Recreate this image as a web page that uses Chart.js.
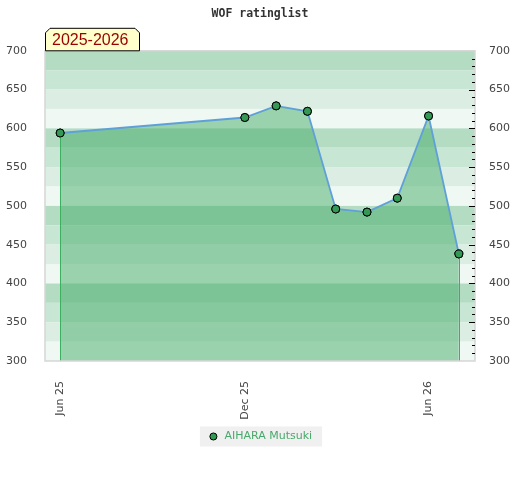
<!DOCTYPE html>
<html>
<head>
<meta charset="utf-8">
<script src="https://cdn.jsdelivr.net/npm/chart.js@4"></script>
<style>
  html, body { margin: 0; padding: 0; background: #fff; }
  #wrap { width: 520px; height: 480px; }
</style>
</head>
<body>
<div id="wrap"><canvas id="chart" width="520" height="480"></canvas></div>
<script>
// data
const dates = ['2025-06-01', '2025-12-01', '2026-01-01', '2026-02-01', '2026-03-01',
               '2026-04-01', '2026-05-01', '2026-06-01', '2026-07-01'];
const ratings = [594, 614, 629, 622, 496, 492, 510, 616, 438];
const xTickDates = ['2025-06-01', '2025-12-01', '2026-06-01'];
const xTickLabels = ['Jun 25', 'Dec 25', 'Jun 26'];
const yTicks = [300, 350, 400, 450, 500, 550, 600, 650, 700];
const playerName = 'AIHARA Mutsuki';
const seasonLabel = '2025-2026';
const chartTitle = 'WOF ratinglist';

const toMs = s => {
  const p = s.split('-').map(Number);
  return Date.UTC(p[0], p[1] - 1, p[2]);
};

const xMin = Date.UTC(2025, 4, 17);
const xMax = Date.UTC(2026, 6, 17);

// horizontal bands every 25 points, 4 shades repeating from the top
const bandColors = ['#b3dcc3', '#c8e6d4', '#dceee3', '#eff8f3'];

const bandsPlugin = {
  id: 'bands',
  beforeDatasetsDraw(chart) {
    const { ctx, chartArea } = chart;
    const y = chart.scales.y;
    ctx.save();
    let i = 0;
    for (let v = y.max; v > y.min; v -= 25) {
      const top = y.getPixelForValue(v);
      const bot = y.getPixelForValue(v - 25);
      ctx.fillStyle = bandColors[i % 4];
      ctx.fillRect(chartArea.left, top, chartArea.right - chartArea.left, bot - top);
      i++;
    }
    ctx.restore();
  },
  afterDatasetsDraw(chart) {
    const { ctx, chartArea } = chart;
    const meta = chart.getDatasetMeta(0);
    const first = meta.data[0];
    const last = meta.data[meta.data.length - 1];
    ctx.save();
    ctx.strokeStyle = '#3cb060';
    ctx.lineWidth = 1;
    [first, last].forEach(p => {
      const x = Math.round(p.x) + 0.5;
      ctx.beginPath();
      ctx.moveTo(x, p.y);
      ctx.lineTo(x, chartArea.bottom);
      ctx.stroke();
    });
    // redraw the points on top of the edge lines
    meta.data.forEach(p => p.draw(ctx, chartArea));
    ctx.restore();
  }
};

const framePlugin = {
  id: 'frame',
  afterDraw(chart) {
    const { ctx, chartArea } = chart;
    const y2 = chart.scales.y2;
    ctx.save();
    // plot border
    ctx.strokeStyle = '#d6d6d6';
    ctx.lineWidth = 1.5;
    ctx.strokeRect(chartArea.left, chartArea.top, chartArea.right - chartArea.left, chartArea.bottom - chartArea.top);

    // inward ticks on the right axis
    ctx.strokeStyle = '#000';
    ctx.lineWidth = 1;
    for (let v = y2.min + 10; v < y2.max; v += 10) {
      const py = Math.round(y2.getPixelForValue(v)) + 0.5;
      const len = v % 50 === 0 ? 6 : 3;
      ctx.beginPath();
      ctx.moveTo(chartArea.right - len, py);
      ctx.lineTo(chartArea.right, py);
      ctx.stroke();
    }

    // season label box
    const bx = chartArea.left, by = chartArea.top - 23, bw = 95, bh = 23, c = 5;
    ctx.beginPath();
    ctx.moveTo(bx + 0.5, by + bh);
    ctx.lineTo(bx + 0.5, by + c);
    ctx.lineTo(bx + c, by + 0.5);
    ctx.lineTo(bx + bw - c, by + 0.5);
    ctx.lineTo(bx + bw - 0.5, by + c);
    ctx.lineTo(bx + bw - 0.5, by + bh);
    ctx.closePath();
    ctx.fillStyle = '#ffffcc';
    ctx.fill();
    ctx.strokeStyle = '#000';
    ctx.stroke();
    ctx.fillStyle = '#990000';
    ctx.font = '16px "Liberation Sans"';
    ctx.textBaseline = 'middle';
    ctx.textAlign = 'left';
    ctx.fillText(seasonLabel, bx + 7, by + bh / 2 + 1);
    ctx.restore();
  }
};

const legendBgPlugin = {
  id: 'legendBg',
  beforeDraw(chart) {
    const lg = chart.legend;
    if (!lg || !lg.legendHitBoxes || !lg.legendHitBoxes.length) return;
    const hb = lg.legendHitBoxes[0];
    const { ctx } = chart;
    ctx.save();
    ctx.fillStyle = '#f0f0f0';
    ctx.fillRect(hb.left - 8, hb.top + hb.height / 2 - 10, hb.width + 18, 20);
    ctx.restore();
  }
};

Chart.defaults.font.family = '"DejaVu Sans"';
Chart.defaults.font.size = 11;
Chart.defaults.color = '#444';

const ctx = document.getElementById('chart').getContext('2d');
new Chart(ctx, {
  type: 'line',
  data: {
    datasets: [{
      label: playerName,
      data: dates.map((d, i) => ({ x: toMs(d), y: ratings[i] })),
      borderColor: '#5fa0d8',
      borderWidth: 1.8,
      backgroundColor: 'rgba(69,172,105,0.5)',
      fill: 'start',
      tension: 0,
      pointRadius: 4,
      pointBackgroundColor: '#339955',
      pointBorderColor: '#000',
      pointBorderWidth: 1,
      yAxisID: 'y'
    }]
  },
  options: {
    responsive: false,
    animation: false,
    layout: { padding: { left: 0, right: 0, top: 0, bottom: 28 } },
    plugins: {
      title: {
        display: true,
        text: chartTitle,
        color: '#333',
        font: { family: '"DejaVu Sans Mono"', size: 11.5, weight: 'bold' },
        padding: { top: 7, bottom: 30 }
      },
      legend: {
        position: 'bottom',
        labels: {
          usePointStyle: true,
          boxHeight: 5,
          color: '#48a96c',
          padding: 10,
          generateLabels: chart => chart.data.datasets.map((ds, i) => ({
            text: ds.label,
            fillStyle: '#339955',
            strokeStyle: '#000',
            lineWidth: 1,
            pointStyle: 'circle',
            fontColor: '#48a96c',
            datasetIndex: i
          }))
        }
      },
      tooltip: { enabled: false }
    },
    scales: {
      x: {
        type: 'linear',
        min: xMin,
        max: xMax,
        grid: { display: false },
        border: { display: false },
        afterBuildTicks: s => { s.ticks = xTickDates.map(d => ({ value: toMs(d) })); },
        afterFit: s => { s.height = 60; },
        ticks: {
          minRotation: 90,
          maxRotation: 90,
          padding: 12,
          callback: (v, i) => xTickLabels[i]
        }
      },
      y: {
        position: 'left',
        min: 300,
        max: 700,
        grid: { display: false },
        border: { display: false },
        afterBuildTicks: s => { s.ticks = yTicks.map(v => ({ value: v })); },
        afterFit: s => { s.width = 45; },
        ticks: { padding: 10 }
      },
      y2: {
        position: 'right',
        min: 300,
        max: 700,
        grid: { display: false },
        border: { display: false },
        afterBuildTicks: s => { s.ticks = yTicks.map(v => ({ value: v })); },
        afterFit: s => { s.width = 45; },
        ticks: { padding: 6 }
      }
    }
  },
  plugins: [bandsPlugin, framePlugin, legendBgPlugin]
});
</script>
</body>
</html>
